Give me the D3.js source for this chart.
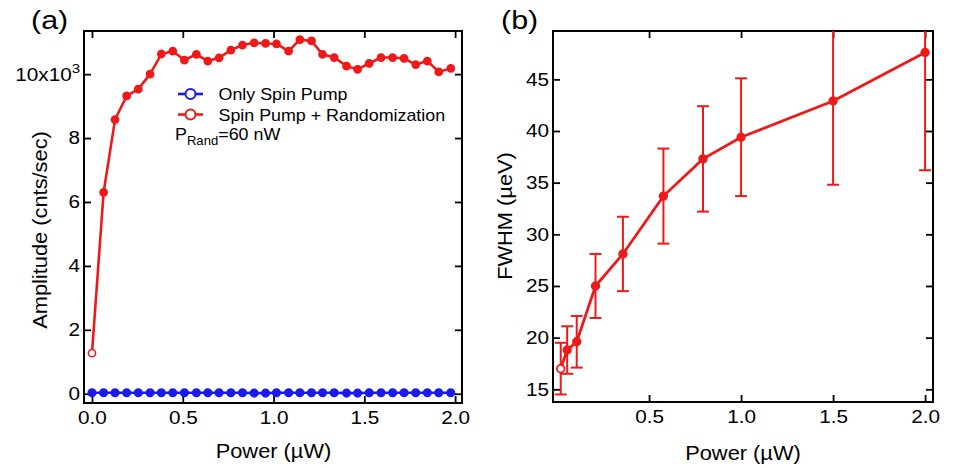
<!DOCTYPE html>
<html>
<head>
<meta charset="utf-8">
<script src="https://cdn.jsdelivr.net/npm/d3@7"></script>
<style>
  html, body { margin: 0; padding: 0; background: #fff; }
  svg { display: block; font-family: "Liberation Sans", Arial, sans-serif; }
</style>
</head>
<body>
<svg id="chart" width="953" height="467"></svg>
<script>
// ---------- Panel (a) data ----------
const powerA = [0.00, 0.064, 0.127, 0.191, 0.255, 0.320, 0.382, 0.445, 0.509, 0.575,
  0.638, 0.700, 0.765, 0.829, 0.893, 0.956, 1.016, 1.083, 1.145, 1.209,
  1.270, 1.334, 1.402, 1.463, 1.527, 1.592, 1.656, 1.719, 1.783, 1.847, 1.910, 1.976];
// amplitudes in units of 10^3 cnts/sec
const ampRandom = [1.27, 6.30, 8.58, 9.32, 9.53, 10.00, 10.63, 10.72, 10.44, 10.62,
  10.41, 10.51, 10.75, 10.91, 10.98, 10.96, 10.95, 10.72, 11.08, 11.04,
  10.62, 10.52, 10.25, 10.15, 10.34, 10.52, 10.52, 10.49, 10.30, 10.41, 10.07, 10.18];
const ampSpinOnly = [0.03, 0.03, 0.03, 0.03, 0.03, 0.03, 0.03, 0.03, 0.03, 0.03,
  0.03, 0.03, 0.03, 0.03, 0.02, 0.02, 0.03, 0.03, 0.03, 0.03,
  0.03, 0.03, 0.02, 0.02, 0.03, 0.03, 0.03, 0.03, 0.03, 0.03, 0.03, 0.03];
const yTicksA = [0, 2, 4, 6, 8, 10];
const xTicksA = [0.0, 0.5, 1.0, 1.5, 2.0];
const legendLabels = ["Only Spin Pump", "Spin Pump + Randomization"];

// ---------- Panel (b) data ----------
const powerB = [0.02, 0.055, 0.107, 0.209, 0.358, 0.578, 0.793, 1.0, 1.5, 2.0];
const fwhm = [17.0, 18.8, 19.6, 25.0, 28.1, 33.7, 37.3, 39.4, 42.9, 47.6];
const fwhmErr = [2.5, 2.3, 2.5, 3.1, 3.6, 4.6, 5.1, 5.7, 8.1, 11.4];
const yTicksB = [15, 20, 25, 30, 35, 40, 45];
const xTicksB = [0.5, 1.0, 1.5, 2.0];

const RED = "#ee1a1a";
const BLUE = "#1a1aee";
const INK = "#000";
const svg = d3.select("#chart");
const TICK = 7;
const SX = 1.12; // horizontal text stretch seen in the reference

function label(g, x, y, txt, size, opts = {}) {
  const s = opts.stretch || SX;
  const rot = opts.rotate ? ` rotate(${opts.rotate})` : "";
  return g.append("text")
    .attr("transform", `translate(${x},${y})${rot} scale(${s},1)`)
    .attr("text-anchor", opts.anchor || "start")
    .style("font-size", size + "px").attr("fill", INK).text(txt);
}

function frameAxes(g, x, y, xt, yt, xfmt, yfmt) {
  const [x0, x1] = x.range();
  const [y0, y1] = y.range();
  const styleAxis = sel => {
    sel.select(".domain").remove();
    sel.selectAll(".tick line").attr("stroke", "#000").attr("stroke-width", 1.8);
    sel.selectAll(".tick text").attr("fill", INK).style("font-size", "18.5px")
      .style("font-family", '"Liberation Sans", Arial, sans-serif')
      .attr("transform", `scale(${SX},1)`);
  };
  g.append("g").attr("transform", `translate(0,${y0})`)
    .call(d3.axisBottom(x).tickValues(xt).tickSize(-TICK).tickPadding(8).tickFormat(xfmt))
    .call(styleAxis);
  g.append("g").attr("transform", `translate(0,${y1})`)
    .call(d3.axisTop(x).tickValues(xt).tickSize(-TICK).tickFormat(""))
    .call(styleAxis);
  const left = g.append("g").attr("transform", `translate(${x0},0)`)
    .call(d3.axisLeft(y).tickValues(yt).tickSize(-TICK).tickPadding(3.5).tickFormat(yfmt))
    .call(styleAxis);
  g.append("g").attr("transform", `translate(${x1},0)`)
    .call(d3.axisRight(y).tickValues(yt).tickSize(-TICK).tickFormat(""))
    .call(styleAxis);
  g.append("rect").attr("x", x0).attr("y", y1).attr("width", x1 - x0).attr("height", y0 - y1)
    .attr("fill", "none").attr("stroke", "#000").attr("stroke-width", 2);
  return left;
}

// ================= Panel (a) =================
const xA = d3.scaleLinear().domain([-0.044, 2.038]).range([84, 462]);
const yA = d3.scaleLinear().domain([-0.29, 11.35]).range([403, 31]);
const gA = svg.append("g");

const leftA = frameAxes(gA, xA, yA, xTicksA, yTicksA, d3.format(".1f"), d => d === 10 ? "" : String(d));
leftA.selectAll(".tick").filter(d => d === 10).select("text")
  .call(t => { t.text(null); t.append("tspan").text("10x10");
    t.append("tspan").attr("dy", "-0.55em").style("font-size", "13.5px").text("3"); });

const lineA = d3.line().x((d, i) => xA(powerA[i])).y(d => yA(d));
gA.append("path").datum(ampSpinOnly).attr("d", lineA)
  .attr("fill", "none").attr("stroke", BLUE).attr("stroke-width", 2.6);
gA.selectAll("circle.b").data(ampSpinOnly).join("circle")
  .attr("cx", (d, i) => xA(powerA[i])).attr("cy", d => yA(d)).attr("r", 3.8)
  .attr("fill", BLUE).attr("stroke", BLUE).attr("stroke-width", 1.5);
gA.append("path").datum(ampRandom).attr("d", lineA)
  .attr("fill", "none").attr("stroke", RED).attr("stroke-width", 2.6);
gA.selectAll("circle.r").data(ampRandom).join("circle")
  .attr("cx", (d, i) => xA(powerA[i])).attr("cy", d => yA(d)).attr("r", 3.6)
  .attr("fill", (d, i) => i === 0 ? "#fff" : RED).attr("stroke", RED).attr("stroke-width", 1.6);

// legend
const legColors = [BLUE, RED];
legendLabels.forEach((lab, i) => {
  const cy = 94 + i * 20.5;
  gA.append("line").attr("x1", 178).attr("x2", 203).attr("y1", cy).attr("y2", cy)
    .attr("stroke", legColors[i]).attr("stroke-width", 2.6);
  gA.append("circle").attr("cx", 190.5).attr("cy", cy).attr("r", 5)
    .attr("fill", "#fff").attr("stroke", legColors[i]).attr("stroke-width", 2);
  label(gA, 218.5, cy + 6, lab, 17, { stretch: 1.05 });
});
const pr = gA.append("text").attr("transform", "translate(175,140) scale(1.05,1)")
  .style("font-size", "17px").attr("fill", INK);
pr.append("tspan").text("P");
pr.append("tspan").attr("dy", "5").style("font-size", "12.5px").text("Rand");
pr.append("tspan").attr("dy", "-5").text("=60 nW");

label(gA, 47, 230, "Amplitude (cnts/sec)", 19.5, { rotate: -90, anchor: "middle" });
label(gA, 273.5, 458, "Power (µW)", 19.5, { anchor: "middle" });
label(gA, 31, 29, "(a)", 25, { stretch: 1.22 });

// ================= Panel (b) =================
const xB = d3.scaleLinear().domain([-0.022, 2.043]).range([553, 933]);
const yB = d3.scaleLinear().domain([13.77, 49.68]).range([402, 31]);
const gB = svg.append("g");
frameAxes(gB, xB, yB, xTicksB, yTicksB, d3.format(".1f"), d3.format("d"));

svg.append("clipPath").attr("id", "clipB").append("rect")
  .attr("x", 553).attr("y", 31).attr("width", 380).attr("height", 371);
const dB = gB.append("g").attr("clip-path", "url(#clipB)");

fwhm.forEach((v, i) => {
  const cx = xB(powerB[i]);
  const top = yB(v + fwhmErr[i]), bot = yB(v - fwhmErr[i]);
  dB.append("line").attr("x1", cx).attr("x2", cx).attr("y1", top).attr("y2", bot)
    .attr("stroke", RED).attr("stroke-width", 2);
  [top, bot].forEach(yy => dB.append("line").attr("x1", cx - 6).attr("x2", cx + 6)
    .attr("y1", yy).attr("y2", yy).attr("stroke", RED).attr("stroke-width", 2));
});
const lineB = d3.line().x((d, i) => xB(powerB[i])).y(d => yB(d));
dB.append("path").datum(fwhm).attr("d", lineB)
  .attr("fill", "none").attr("stroke", RED).attr("stroke-width", 2.8);
dB.selectAll("circle").data(fwhm).join("circle")
  .attr("cx", (d, i) => xB(powerB[i])).attr("cy", d => yB(d)).attr("r", 3.8)
  .attr("fill", (d, i) => i === 0 ? "#fff" : RED).attr("stroke", RED).attr("stroke-width", 1.8);

label(gB, 512, 216, "FWHM (µeV)", 19.5, { rotate: -90, anchor: "middle" });
label(gB, 743, 460, "Power (µW)", 19.5, { anchor: "middle" });
label(gB, 501, 29, "(b)", 25, { stretch: 1.22 });
</script>
</body>
</html>
